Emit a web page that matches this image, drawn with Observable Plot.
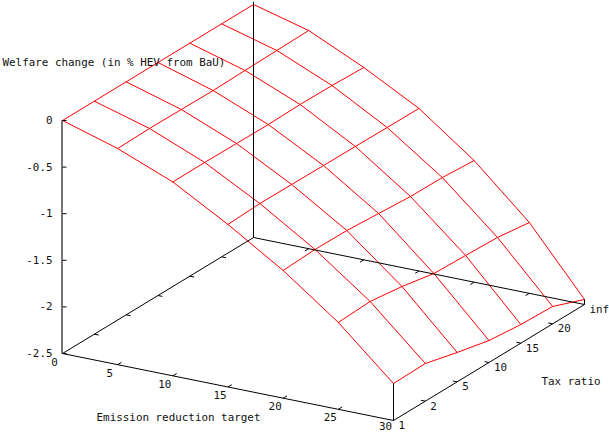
<!DOCTYPE html>
<html>
<head>
<meta charset="utf-8">
<style>html,body{margin:0;padding:0;background:#fff}svg{display:block}</style>
<script src="https://cdn.jsdelivr.net/npm/d3@7"></script>
<script src="https://cdn.jsdelivr.net/npm/@observablehq/plot@0.6"></script>
</head>
<body>
<div id="chart"></div>
<script>
const emissionTargets = [0, 5, 10, 15, 20, 25, 30];
const taxRatioLabels = ["1", "2", "5", "10", "15", "20", "inf"];
const welfareAt0  = [0, 0, 0, 0, 0, 0, 0];
const welfareAt5  = [-0.181, -0.173, -0.177, -0.181, -0.173, -0.166, -0.159];
const welfareAt10 = [-0.42, -0.418, -0.422, -0.426, -0.418, -0.422, -0.436];
const welfareAt15 = [-0.756, -0.739, -0.742, -0.746, -0.749, -0.753, -0.756];
const welfareAt20 = [-1.13, -1.112, -1.116, -1.141, -1.166, -1.17, -1.195];
const welfareAt25 = [-1.568, -1.55, -1.597, -1.665, -1.679, -1.693, -1.74];
const welfareAt30 = [-2.103, -2.096, -2.185, -2.264, -2.3, -2.314, -2.446];
const welfareTicks = [0, -0.5, -1, -1.5, -2, -2.5];
const surface = [welfareAt0, welfareAt5, welfareAt10, welfareAt15, welfareAt20, welfareAt25, welfareAt30];

const zMin = -2.5;
const tx = (e) => e / 30;
const ty = (i) => i / 6;
const U = (e, i) => 331 * tx(e) + 191 * ty(i);
const V = (e, i, z) => 93.2 * (z - zMin) + 116 * ty(i) - 67 * tx(e);

const nodes = [];
emissionTargets.forEach((e, a) => taxRatioLabels.forEach((t, i) =>
  nodes.push({e, i, z: surface[a][i], u: U(e, i), v: V(e, i, surface[a][i])})));

const seg = (e1, i1, z1, e2, i2, z2) => ({x1: U(e1, i1), y1: V(e1, i1, z1), x2: U(e2, i2), y2: V(e2, i2, z2)});
const axisSegs = [
  seg(0, 0, zMin, 30, 0, zMin),
  seg(30, 0, zMin, 30, 6, zMin),
  seg(0, 0, zMin, 0, 6, zMin),
  seg(0, 6, zMin, 30, 6, zMin),
  seg(0, 6, zMin, 0, 6, 0.03),
  seg(30, 0, zMin, 30, 0, welfareAt30[0]),
  seg(30, 6, zMin, 30, 6, welfareAt30[6])
];
const leftAxis = [seg(0, 0, zMin, 0, 0, 0)];
const xTicks = emissionTargets.slice(1, -1);
const yIdx = taxRatioLabels.map((_, i) => i).slice(1, -1);
const tickSegs = [
  ...xTicks.map((e) => seg(e, 0, zMin, e, 0.12, zMin)),
  ...xTicks.map((e) => seg(e, 6, zMin, e, 5.88, zMin)),
  ...yIdx.map((i) => seg(30, i, zMin, 29.6, i, zMin)),
  ...yIdx.map((i) => seg(0, i, zMin, 0.4, i, zMin))
];
const zTickSegs = welfareTicks.map((z) => ({z, x: U(0, 0), y: V(0, 0, z)}));

const textOpts = {fontFamily: "'DejaVu Sans Mono'", fontSize: 10.9, fill: "#111"};
const plot = Plot.plot({
  width: 609, height: 433, margin: 0,
  style: {background: "#fff", overflow: "visible"},
  x: {domain: [-62, 547], range: [0, 609], axis: null},
  y: {domain: [353, -80], range: [0, 433], axis: null},
  marks: [
    Plot.line(nodes, {x: "u", y: "v", z: "e", stroke: "#ff0000", strokeWidth: 1}),
    Plot.line(nodes, {x: "u", y: "v", z: "i", stroke: "#ff0000", strokeWidth: 1}),
    Plot.link(axisSegs, {x1: "x1", y1: "y1", x2: "x2", y2: "y2", stroke: "#000", strokeWidth: 1}),
    Plot.link(leftAxis, {x1: "x1", y1: "y1", x2: "x2", y2: "y2", stroke: "#000", strokeWidth: 1.1, dx: -0.5}),
    Plot.link(tickSegs, {x1: "x1", y1: "y1", x2: "x2", y2: "y2", stroke: "#000", strokeWidth: 1}),
    Plot.link(zTickSegs, {x1: "x", x2: (d) => d.x + 4, y1: "y", y2: "y", stroke: "#000", strokeWidth: 1}),
    Plot.text(zTickSegs, {x: "x", y: "y", text: (d) => String(d.z), textAnchor: "end", dx: -10, ...textOpts}),
    Plot.text(emissionTargets.slice(0, -1), {x: (e) => U(e, 0), y: (e) => V(e, 0, zMin), text: (e) => String(e), dx: -8, dy: 8.5, ...textOpts}),
    Plot.text(emissionTargets.slice(-1), {x: (e) => U(e, 0), y: (e) => V(e, 0, zMin), text: (e) => String(e), dx: -8, dy: 6, ...textOpts}),
    Plot.text(taxRatioLabels, {x: (t, i) => U(30, i), y: (t, i) => V(30, i, zMin), text: (t) => t, textAnchor: "start", dx: 5, dy: 5, ...textOpts}),
    Plot.text(["Welfare change (in % HEV from BaU)"], {frameAnchor: "top-left", dx: 2, dy: 62, text: (d) => d, textAnchor: "start", lineAnchor: "middle", ...textOpts}),
    Plot.text(["Emission reduction target"], {x: U(15, 0), y: V(15, 0, zMin), text: (d) => d, dx: -49.5, dy: 30, ...textOpts}),
    Plot.text(["Tax ratio"], {x: U(30, 3), y: V(30, 3, zMin), text: (d) => d, dx: 82, dy: 19, ...textOpts})
  ]
});
document.getElementById("chart").appendChild(plot);
</script>
</body>
</html>
